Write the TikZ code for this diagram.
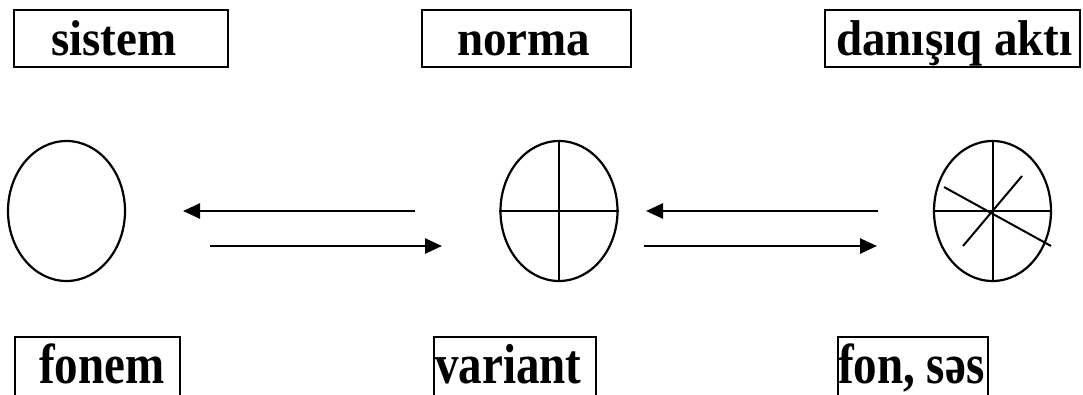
\documentclass[tikz,border=0pt]{standalone}
\usepackage{fontspec}
\setmainfont{Liberation Serif}
\usetikzlibrary{arrows.meta,shapes.geometric}
\newcommand{\tallA}[1]{\scalebox{1}[1.07]{#1}}
\newcommand{\tallB}[1]{\scalebox{1}[1.2]{#1}}
\tikzset{
  box/.style={draw, line width=2.6pt, inner sep=0pt},
  lbl/.style={inner sep=0pt, font=\fontsize{47}{50}\selectfont\bfseries},
  oval/.style={draw, ellipse, line width=2.2pt, inner sep=0pt, minimum width=117pt, minimum height=140pt},
  inner/.style={line width=2pt},
  arr/.style={line width=2.6pt, -{Triangle[length=17pt,width=15pt]}}
}
\begin{document}
\begin{tikzpicture}[x=1pt,y=-1pt]
\useasboundingbox (0,0) rectangle (1083,394);
\clip (0,0) rectangle (1083,394);
% top boxes
\node[box, minimum width=214pt, minimum height=57pt] (b1) at (121,38.5) {};
\node[lbl, anchor=base west] (t1) at (51,55) {\tallA{sistem}};
\node[box, minimum width=209pt, minimum height=57pt] (b2) at (526.5,38.5) {};
\node[lbl, anchor=base west] (t2) at (457,55) {\tallA{norma}};
\node[box, minimum width=255pt, minimum height=57pt] (b3) at (952.5,38.5) {};
\node[lbl, anchor=base west] (t3) at (836,55) {\tallA{danışıq aktı}};
% ellipses
\node[oval] (e1) at (66.5,211) {};
\node[oval] (e2) at (559,211) {};
\node[oval] (e3) at (992.5,211) {};
\draw[inner] (e2.north) -- (e2.south) (e2.west) -- (e2.east);
\draw[inner] (e3.north) -- (e3.south) (e3.west) -- (e3.east);
\coordinate (d1a) at (944,187);
\coordinate (d1b) at (1051,246);
\coordinate (d2a) at (1022,176);
\coordinate (d2b) at (963,246);
\draw[inner] (d1a) -- (d1b) (d2a) -- (d2b);
% arrows
\coordinate (a1s) at (415,211); \coordinate (a1e) at (183,211);
\coordinate (a2s) at (210,246); \coordinate (a2e) at (442,246);
\coordinate (a3s) at (878,211); \coordinate (a3e) at (646,211);
\coordinate (a4s) at (644,246); \coordinate (a4e) at (877,246);
\draw[arr] (a1s) -- (a1e);
\draw[arr] (a2s) -- (a2e);
\draw[arr] (a3s) -- (a3e);
\draw[arr] (a4s) -- (a4e);
% bottom boxes
\node[box, minimum width=165pt, minimum height=80pt] (b4) at (97.5,377) {};
\node[lbl, anchor=base west] (t4) at (39,383) {\tallB{fonem}};
\node[box, minimum width=162pt, minimum height=80pt] (b5) at (515,377) {};
\node[lbl, anchor=base west] (t5) at (435,383) {\tallB{variant}};
\node[box, minimum width=150pt, minimum height=80pt] (b6) at (913,377) {};
\node[lbl, anchor=base west] (t6) at (838,383) {\tallB{fon, səs}};
\end{tikzpicture}
\end{document}
